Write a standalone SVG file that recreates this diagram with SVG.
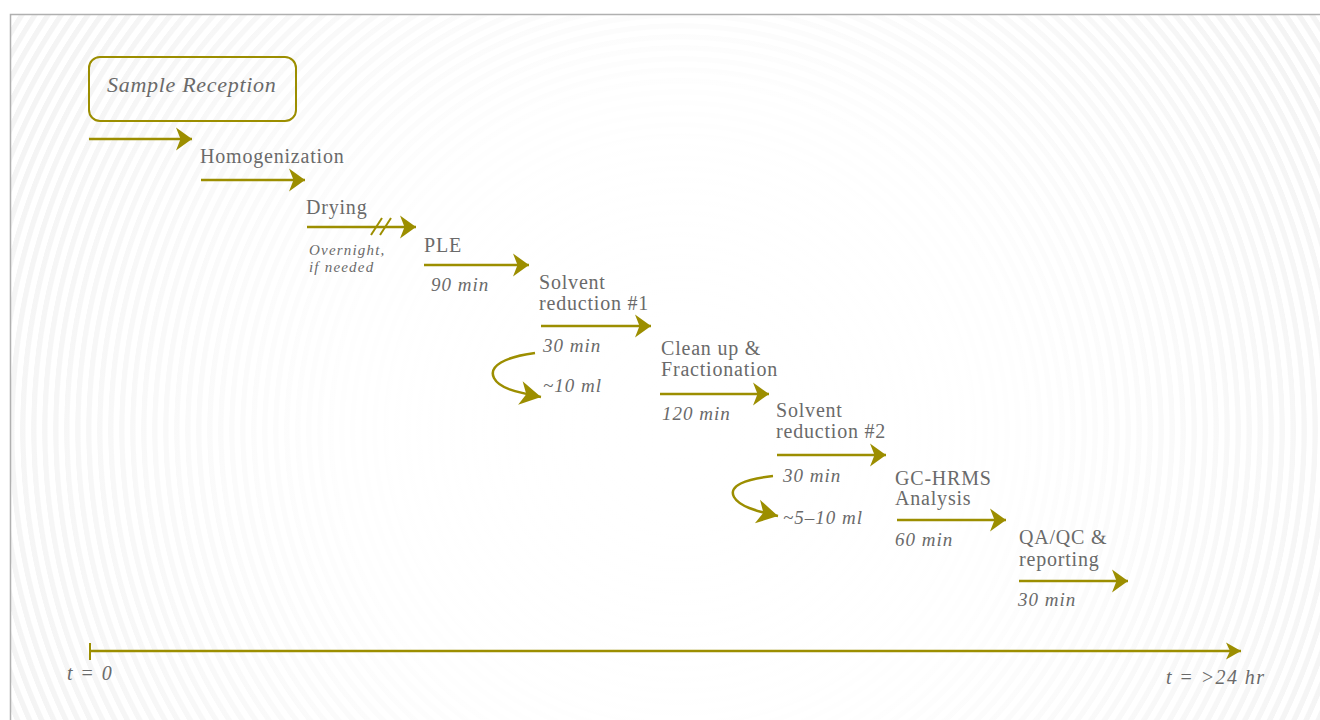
<svg xmlns="http://www.w3.org/2000/svg" width="1320" height="720" viewBox="0 0 1320 720">
  <defs>
    <radialGradient id="rings" gradientUnits="userSpaceOnUse" cx="680" cy="430" r="11" spreadMethod="repeat">
      <stop offset="0" stop-color="#ffffff"/>
      <stop offset="0.45" stop-color="#ffffff"/>
      <stop offset="0.55" stop-color="#f4f4f4"/>
      <stop offset="0.95" stop-color="#f4f4f4"/>
      <stop offset="1" stop-color="#ffffff"/>
    </radialGradient>
    <radialGradient id="fade" gradientUnits="userSpaceOnUse" cx="680" cy="430" r="720">
      <stop offset="0" stop-color="#ffffff" stop-opacity="1"/>
      <stop offset="0.45" stop-color="#ffffff" stop-opacity="0.95"/>
      <stop offset="0.85" stop-color="#ffffff" stop-opacity="0.25"/>
      <stop offset="1" stop-color="#ffffff" stop-opacity="0"/>
    </radialGradient>
    <marker id="ah" markerUnits="userSpaceOnUse" markerWidth="20" markerHeight="26" viewBox="-18 -13 20 26" refX="0" refY="0" orient="auto">
      <path d="M0,0 L-16,-11.5 L-11.5,0 L-16,11.5 Z" fill="#9c8e00"/>
    </marker>
    <marker id="ahs" markerUnits="userSpaceOnUse" markerWidth="18" markerHeight="20" viewBox="-16 -10 18 20" refX="0" refY="0" orient="auto">
      <path d="M0,0 L-15,-8.5 L-11,0 L-15,8.5 Z" fill="#9c8e00"/>
    </marker>
    <marker id="ahc" markerUnits="userSpaceOnUse" markerWidth="30" markerHeight="30" viewBox="-24 -15 26 30" refX="0" refY="0" orient="auto">
      <path d="M0,0 L-21,-12 L-15,0 L-21,12 Z" fill="#9c8e00"/>
    </marker>
  </defs>
  <style>
    .lbl { font-family: "Liberation Serif", "DejaVu Serif", serif; font-size: 20px; letter-spacing: 0.8px; fill: #6a6a6a; }
    .dur { font-family: "Liberation Serif", "DejaVu Serif", serif; font-style: italic; font-size: 19px; letter-spacing: 1px; fill: #6a6a6a; }
    .note { font-family: "Liberation Serif", "DejaVu Serif", serif; font-style: italic; font-size: 15px; letter-spacing: 1.2px; fill: #6a6a6a; }
    .arr { stroke: #9c8e00; stroke-width: 2.5; fill: none; marker-end: url(#ah); }
    .curve { stroke: #9c8e00; stroke-width: 2.5; fill: none; marker-end: url(#ahc); }
  </style>

  <rect x="0" y="0" width="1320" height="720" fill="#ffffff"/>
  <rect x="10" y="14" width="1320" height="720" fill="url(#rings)"/>
  <rect x="10" y="14" width="1320" height="720" fill="url(#fade)"/>
  <rect x="10.5" y="14.5" width="1320" height="720" fill="none" stroke="#b0b0b0" stroke-width="1.5"/>

  <g id="sample-reception">
    <rect x="89" y="57" width="207" height="64" rx="11" fill="none" stroke="#9c8e00" stroke-width="2"/>
    <text x="107" y="92" style="font-family: 'Liberation Serif', serif; font-style: italic; font-size: 22px; letter-spacing: 0.7px; fill: #6a6a6a;">Sample Reception</text>
  </g>
  <g id="homogenization">
    <text class="lbl" x="200" y="163">Homogenization</text>
  </g>
  <g id="drying">
    <text class="lbl" x="306" y="214">Drying</text>
    <text class="note" x="309" y="255">Overnight,</text>
    <text class="note" x="309" y="272">if needed</text>
  </g>
  <g id="ple">
    <text class="lbl" x="424" y="252">PLE</text>
    <text class="dur" x="431" y="291">90 min</text>
  </g>
  <g id="solvent-reduction-1">
    <text class="lbl" x="539" y="289">Solvent</text>
    <text class="lbl" x="539" y="310">reduction #1</text>
    <text class="dur" x="543" y="352">30 min</text>
    <text class="dur" x="543" y="392">~10 ml</text>
  </g>
  <g id="clean-up">
    <text class="lbl" x="661" y="355">Clean up &amp;</text>
    <text class="lbl" x="661" y="376">Fractionation</text>
    <text class="dur" x="662" y="420">120 min</text>
  </g>
  <g id="solvent-reduction-2">
    <text class="lbl" x="776" y="417">Solvent</text>
    <text class="lbl" x="776" y="438">reduction #2</text>
    <text class="dur" x="783" y="482">30 min</text>
    <text class="dur" x="783" y="524">~5–10 ml</text>
  </g>
  <g id="gc-hrms">
    <text class="lbl" x="895" y="485">GC-HRMS</text>
    <text class="lbl" x="895" y="505">Analysis</text>
    <text class="dur" x="895" y="546">60 min</text>
  </g>
  <g id="qa-qc">
    <text class="lbl" x="1019" y="544">QA/QC &amp;</text>
    <text class="lbl" x="1019" y="566">reporting</text>
    <text class="dur" x="1018" y="606">30 min</text>
  </g>
  <g id="timeline">
    <line x1="90" y1="643" x2="90" y2="660" stroke="#9c8e00" stroke-width="2"/>
    <text class="dur" x="67" y="680" style="font-size:20px; letter-spacing:1.4px;">t = 0</text>
    <text class="dur" x="1166" y="684" style="font-size:20px; letter-spacing:1.4px;">t = &gt;24 hr</text>
  </g>

  <g id="connectors">
    <line class="arr" x1="89" y1="139" x2="192" y2="139"/>
    <line class="arr" x1="201" y1="180" x2="305" y2="180"/>
    <line class="arr" x1="307" y1="227" x2="416" y2="227"/>
    <line x1="371" y1="235" x2="382" y2="218" stroke="#9c8e00" stroke-width="2"/>
    <line x1="380" y1="235" x2="391" y2="218" stroke="#9c8e00" stroke-width="2"/>
    <line class="arr" x1="424" y1="265" x2="529" y2="265"/>
    <line class="arr" x1="541" y1="326" x2="651" y2="326"/>
    <path class="curve" d="M535,353 C505,357 488,366 494,378 C499,388 515,392 541,397"/>
    <line class="arr" x1="660" y1="394" x2="769" y2="394"/>
    <line class="arr" x1="777" y1="455" x2="886" y2="455"/>
    <path class="curve" d="M773,476 C745,479 728,486 734,497 C739,506 755,511 778,516"/>
    <line class="arr" x1="897" y1="520" x2="1006" y2="520"/>
    <line class="arr" x1="1019" y1="581" x2="1128" y2="581"/>
    <line x1="90" y1="651" x2="1241" y2="651" stroke="#9c8e00" stroke-width="2.5" marker-end="url(#ahs)"/>
  </g>
</svg>
